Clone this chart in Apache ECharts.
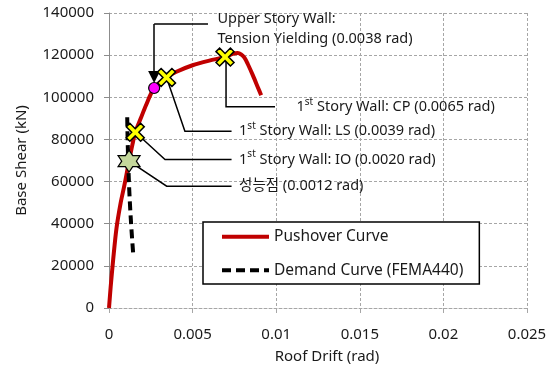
<!DOCTYPE html>
<html>
<head>
<meta charset="utf-8">
<script src="https://cdn.jsdelivr.net/npm/echarts@6/dist/echarts.min.js"></script>
<style>
  html, body { margin: 0; padding: 0; background: #fff; }
  #chart { width: 552px; height: 369px; }
</style>
</head>
<body>
<div id="chart"></div>
<script>
// Pushover curve: [roof drift (rad), base shear (kN)]
const pushoverCurve = [
  [0, 0], [0.0001, 10000], [0.00025, 23000], [0.00045, 38000], [0.0007, 50000],
  [0.0009, 57500], [0.00105, 63500], [0.0012, 69700], [0.0014, 77500], [0.00157, 83400],
  [0.0019, 90000], [0.0022, 96000], [0.0027, 104400], [0.00344, 109400], [0.004, 112000],
  [0.005, 115200], [0.006, 117400], [0.00694, 119100], [0.0074, 120600], [0.0077, 121000],
  [0.0079, 120400], [0.0081, 118800], [0.0083, 115800], [0.0086, 110500], [0.0089, 104800],
  [0.0091, 101000]
];

// Demand curve (FEMA440)
const demandCurve = [[0.00109, 90500], [0.00121, 56300], [0.00145, 25500]];

// Event points on the pushover curve
const upperWallYield = [[0.0027, 104400]];
const firstStoryLimits = [[0.00157, 83400], [0.00344, 109400], [0.00694, 119100]]; // IO, LS, CP
const performancePoint = [[0.0012, 69700]];

// Axis ticks
const xTickLabels = ['0', '0.005', '0.01', '0.015', '0.02', '0.025'];
const yTickLabels = ['0', '20000', '40000', '60000', '80000', '100000', '120000', '140000'];

// Callout leader lines (data coordinates); text sits past the first/last point
const calloutPaths = [
  [[0.00592, 134750], [0.0027, 134750]],
  [[0.0070, 119100], [0.0070, 95500], [0.00993, 95500]],
  [[0.00344, 109400], [0.00454, 83900], [0.00733, 83900]],
  [[0.00157, 83400], [0.00335, 70450], [0.00733, 70450]],
  [[0.0012, 69700], [0.00345, 57800], [0.00733, 57800]]
];
const arrowPath = [[0.0027, 134750], [0.0027, 109600]];
const calloutTexts = [
  'Upper Story Wall:\nTension Yielding (0.0038 rad)',
  '{a|1}{s|st}{a| Story Wall: CP (0.0065 rad)}',
  '{a|1}{s|st}{a| Story Wall: LS (0.0039 rad)}',
  '{a|1}{s|st}{a| Story Wall: IO (0.0020 rad)}',
  '{a|성능점 (0.0012 rad)}'
];

const FONT = "'Noto Sans', 'Noto Sans CJK KR', sans-serif";
const TEXT = '#1a1a1a';
const GRID = '#a6a6a6';

const xMarkPath = 'path://M0,2 L2,0 L5,3 L8,0 L10,2 L7,5 L10,8 L8,10 L5,7 L2,10 L0,8 L3,5 Z';
const starPath = 'path://M10,0 L12.887,5 L18.66,5 L15.774,10 L18.66,15 L12.887,15 L10,20 L7.113,15 L1.34,15 L4.226,10 L1.34,5 L7.113,5 Z';

const richText = {
  a: { fontFamily: FONT, fontSize: 14.5, color: TEXT, lineHeight: 20 },
  s: { fontFamily: FONT, fontSize: 10, color: TEXT, lineHeight: 13, verticalAlign: 'top' }
};

const labelAnchors = calloutPaths.map(function (p, i) {
  const anchor = i === 0 ? p[0] : p[p.length - 1];
  const item = {
    value: anchor,
    label: {
      show: true,
      position: 'right',
      distance: i === 1 ? 21 : 7,
      formatter: calloutTexts[i],
      rich: richText,
      fontFamily: FONT,
      fontSize: 14.5,
      color: TEXT,
      opacity: 1
    }
  };
  if (i === 0) {
    item.label.lineHeight = 20;
    item.label.distance = 9;
    item.label.offset = [0, 5];
    item.label.align = 'left';
  }
  return item;
});

const chart = echarts.init(document.getElementById('chart'), null, { renderer: 'canvas' });

chart.setOption({
  animation: false,
  backgroundColor: '#fff',
  grid: { left: 109, right: 25, top: 13, bottom: 60, containLabel: false },
  xAxis: {
    type: 'value', min: 0, max: 0.025, interval: 0.005,
    name: 'Roof Drift (rad)', nameLocation: 'middle', nameGap: 41,
    nameTextStyle: { fontFamily: FONT, fontSize: 15, color: TEXT, padding: [0, 0, 0, 18] },
    axisLine: { show: true, lineStyle: { color: GRID, width: 1, type: [3, 2] } },
    axisTick: { show: true, length: 5, lineStyle: { color: GRID } },
    axisLabel: { margin: 19, fontFamily: FONT, fontSize: 15, color: TEXT,
      formatter: function (v, i) { return xTickLabels[i]; } },
    splitLine: { show: true, lineStyle: { color: GRID, width: 1, type: [3, 2] } }
  },
  yAxis: {
    type: 'value', min: 0, max: 140000, interval: 20000,
    name: 'Base Shear (kN)', nameLocation: 'middle', nameGap: 80,
    nameTextStyle: { fontFamily: FONT, fontSize: 15, color: TEXT },
    axisLine: { show: true, lineStyle: { color: '#8c8c8c', width: 1 } },
    axisTick: { show: true, length: 5, lineStyle: { color: '#8c8c8c' } },
    axisLabel: { margin: 15, fontFamily: FONT, fontSize: 15, color: TEXT,
      formatter: function (v, i) { return yTickLabels[i]; } },
    splitLine: { show: true, lineStyle: { color: GRID, width: 1, type: [3, 2] } }
  },
  legend: {
    left: 203, top: 222, orient: 'vertical',
    padding: [7, 16, 6, 17],
    itemWidth: 47, itemHeight: 14, itemGap: 18,
    backgroundColor: '#fff', borderColor: '#000', borderWidth: 1.5, borderRadius: 0,
    itemStyle: { color: 'rgba(0,0,0,0)', borderWidth: 0 },
    lineStyle: { width: 4 },
    textStyle: { fontFamily: FONT, fontSize: 15.5, color: TEXT },
    data: ['Pushover Curve', 'Demand Curve (FEMA440)']
  },
  series: [
    {
      name: 'callouts', type: 'lines', coordinateSystem: 'cartesian2d', polyline: true,
      silent: true, z: 3,
      lineStyle: { color: '#000', width: 1.5, opacity: 1 },
      data: calloutPaths.map(function (p) { return { coords: p }; })
    },
    {
      name: 'arrow', type: 'lines', coordinateSystem: 'cartesian2d',
      silent: true, z: 3, symbol: ['none', 'triangle'], symbolSize: [9, 12],
      lineStyle: { color: '#000', width: 1.5, opacity: 1 },
      data: [{ coords: arrowPath }]
    },
    {
      name: 'Pushover Curve', type: 'line', data: pushoverCurve, smooth: 0.3,
      symbol: 'none', z: 4,
      lineStyle: { color: '#c00000', width: 4 }, itemStyle: { color: '#c00000' }
    },
    {
      name: 'Demand Curve (FEMA440)', type: 'line', data: demandCurve, smooth: true,
      symbol: 'none', z: 4,
      lineStyle: { color: '#000', width: 4, type: [9, 5] }, itemStyle: { color: '#000' }
    },
    {
      name: 'upper yield', type: 'scatter', data: upperWallYield, z: 6,
      symbol: 'circle', symbolSize: 11,
      itemStyle: { color: '#ff00ff', borderColor: '#000', borderWidth: 1.2, opacity: 1 }
    },
    {
      name: 'wall limits', type: 'scatter', data: firstStoryLimits, z: 6,
      symbol: xMarkPath, symbolSize: 18,
      itemStyle: { color: '#ffff00', borderColor: '#000', borderWidth: 1.5, opacity: 1 }
    },
    {
      name: 'performance point', type: 'scatter', data: performancePoint, z: 6,
      symbol: starPath, symbolSize: 22,
      itemStyle: { color: '#c4d79b', borderColor: '#000', borderWidth: 1.2, opacity: 1 }
    },
    {
      name: 'callout text', type: 'scatter', data: labelAnchors, z: 7, silent: true,
      symbolSize: 1, itemStyle: { color: 'rgba(0,0,0,0)', opacity: 1 }
    }
  ]
});
</script>
</body>
</html>
